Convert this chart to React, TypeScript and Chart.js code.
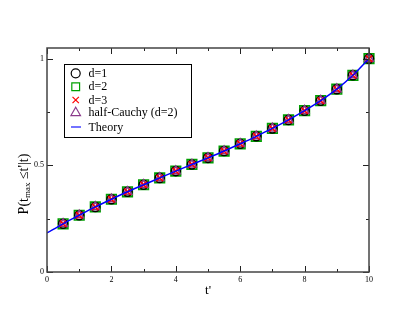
import React, { useEffect, useRef } from "react";
import { Chart, registerables } from "chart.js";
import { drawPoint } from "chart.js/helpers";
Chart.register(...registerables);

const tPrime = [0.5, 1, 1.5, 2, 2.5, 3, 3.5, 4, 4.5, 5, 5.5, 6, 6.5, 7, 7.5, 8, 8.5, 9, 9.5, 10];
const d1 = [0.226, 0.266, 0.305, 0.341, 0.376, 0.409, 0.441, 0.473, 0.504, 0.535, 0.567, 0.601, 0.636, 0.673, 0.713, 0.756, 0.803, 0.857, 0.922, 1.0];
const d2 = [0.226, 0.266, 0.305, 0.341, 0.376, 0.409, 0.441, 0.473, 0.504, 0.535, 0.567, 0.601, 0.636, 0.673, 0.713, 0.756, 0.803, 0.857, 0.922, 1.0];
const d3 = [0.226, 0.266, 0.305, 0.341, 0.376, 0.409, 0.441, 0.473, 0.504, 0.535, 0.567, 0.601, 0.636, 0.673, 0.713, 0.756, 0.803, 0.857, 0.922, 1.0];
const halfCauchy = [0.226, 0.266, 0.305, 0.341, 0.376, 0.409, 0.441, 0.473, 0.504, 0.535, 0.567, 0.601, 0.636, 0.673, 0.713, 0.756, 0.803, 0.857, 0.922, 1.0];
const theoryT = [0, 0.5, 1, 1.5, 2, 2.5, 3, 3.5, 4, 4.5, 5, 5.5, 6, 6.5, 7, 7.5, 8, 8.5, 9, 9.5, 10];
const theoryP = [0.183, 0.226, 0.266, 0.305, 0.341, 0.376, 0.409, 0.441, 0.473, 0.504, 0.535, 0.567, 0.601, 0.636, 0.673, 0.713, 0.756, 0.803, 0.857, 0.922, 1.0];
const xTickValues = [0, 2, 4, 6, 8, 10];
const yTickValues = [0, 0.5, 1];
const yTickLabels = ["0", "0.5", "1"];
const legendLabels = ["d=1", "d=2", "d=3", "half-Cauchy (d=2)", "Theory"];

const SERIF = "'Liberation Serif', 'Times New Roman', serif";

const toPts = (xs: number[], ys: number[]) => xs.map((x, i) => ({ x, y: ys[i] }));

const framePlugin = {
  id: "frame",
  afterDatasetsDraw(chart: any) {
    const { ctx, chartArea: a, scales } = chart;
    const x = scales.x;
    const y = scales.y;
    ctx.save();
    ctx.strokeStyle = "#222";
    ctx.lineWidth = 1;
    const line = (x1: number, y1: number, x2: number, y2: number) => {
      ctx.beginPath();
      ctx.moveTo(x1, y1);
      ctx.lineTo(x2, y2);
      ctx.stroke();
    };
    for (let v = 0; v <= 10; v++) {
      const px = Math.round(x.getPixelForValue(v)) + 0.5;
      const L = v % 2 === 0 ? 6 : 3;
      line(px, a.bottom, px, a.bottom - L);
      line(px, a.top, px, a.top + L);
    }
    [0, 0.25, 0.5, 0.75, 1].forEach((v) => {
      const py = Math.round(y.getPixelForValue(v)) + 0.5;
      const L = v === 0.25 || v === 0.75 ? 3 : 6;
      line(a.left, py, a.left + L, py);
      line(a.right, py, a.right - L, py);
    });
    ctx.strokeStyle = "#444";
    ctx.lineWidth = 1.5;
    ctx.strokeRect(a.left, a.top, a.right - a.left, a.bottom - a.top);
    ctx.restore();
  },
  afterDraw(chart: any) {
    const { ctx, chartArea: a } = chart;
    ctx.save();
    // legend box
    const bx = 64.5, by = 64.5, bw = 127, bh = 73;
    ctx.fillStyle = "#fff";
    ctx.fillRect(bx, by, bw, bh);
    ctx.strokeStyle = "#000";
    ctx.lineWidth = 1;
    ctx.strokeRect(bx, by, bw, bh);
    const rows = [73.3, 86.7, 100, 112.8, 127];
    const sx = 75.7;
    const styles = [
      { pointStyle: "circle", radius: 4.5, color: "#000" },
      { pointStyle: "rect", radius: 5.5, color: "#00a000" },
      { pointStyle: "crossRot", radius: 4.5, color: "#ff0000" },
      { pointStyle: "triangle", radius: 5.5, color: "#8b3a8b" },
    ];
    styles.forEach((s, i) => {
      ctx.strokeStyle = s.color;
      ctx.fillStyle = "rgba(0,0,0,0)";
      ctx.lineWidth = 1.2;
      drawPoint(ctx, { pointStyle: s.pointStyle, radius: s.radius, rotation: 0, borderWidth: 1.2 } as any, sx, rows[i]);
    });
    ctx.strokeStyle = "#4444ff";
    ctx.lineWidth = 1.5;
    ctx.beginPath();
    ctx.moveTo(71, rows[4]);
    ctx.lineTo(81, rows[4]);
    ctx.stroke();
    ctx.fillStyle = "#000";
    ctx.font = `12px ${SERIF}`;
    ctx.textBaseline = "middle";
    ctx.textAlign = "left";
    legendLabels.forEach((t, i) => ctx.fillText(t, 88.5, rows[i] + 0.5));

    // x title
    ctx.font = `13px ${SERIF}`;
    ctx.textAlign = "center";
    ctx.fillText("t'", (a.left + a.right) / 2, 291);

    // y title with subscript
    ctx.translate(24, 184);
    ctx.rotate(-Math.PI / 2);
    const big = `14px ${SERIF}`;
    const small = `9px ${SERIF}`;
    const parts: [string, string, number][] = [
      ["P(t", big, 0],
      ["max", small, 4],
      [" \u2264t'|t)", big, 0],
    ];
    let total = 0;
    parts.forEach(([t, f]) => {
      ctx.font = f;
      total += ctx.measureText(t).width;
    });
    let cx = -total / 2;
    ctx.textAlign = "left";
    parts.forEach(([t, f, dy]) => {
      ctx.font = f;
      ctx.fillText(t, cx, dy);
      cx += ctx.measureText(t).width;
    });
    ctx.restore();
  },
};

export default function App() {
  const ref = useRef<HTMLCanvasElement>(null);
  useEffect(() => {
    if (!ref.current) return;
    const ds = (label: string, data: number[], pointStyle: string, radius: number, color: string) => ({
      type: "scatter" as const,
      label,
      data: toPts(tPrime, data),
      pointStyle,
      pointRadius: radius,
      borderColor: color,
      backgroundColor: "rgba(0,0,0,0)",
      pointBorderWidth: 1.6,
      showLine: false,
      clip: false as any,
    });
    const chart = new Chart(ref.current, {
      type: "scatter",
      data: {
        datasets: [
          {
            type: "line",
            label: legendLabels[4],
            data: toPts(theoryT, theoryP),
            borderColor: "#0000ff",
            borderWidth: 1.5,
            pointRadius: 0,
            cubicInterpolationMode: "monotone",
            fill: false,
            order: 0,
          } as any,
          { ...ds(legendLabels[0], d1, "circle", 4.5, "#000"), order: 3 },
          { ...ds(legendLabels[1], d2, "rect", 6.8, "#00a000"), order: 4 },
          { ...ds(legendLabels[2], d3, "crossRot", 4.5, "#ff0000"), order: 1 },
          { ...ds(legendLabels[3], halfCauchy, "triangle", 5, "#8b3a8b"), order: 2 },
        ],
      },
      options: {
        responsive: false,
        animation: false,
        events: [],
        layout: { padding: { top: 48, right: 46, bottom: 0, left: 0 } },
        plugins: { legend: { display: false }, tooltip: { enabled: false } },
        scales: {
          x: {
            type: "linear",
            min: 0,
            max: 10,
            afterFit: (s: any) => {
              s.height = 49;
            },
            afterBuildTicks: (s: any) => {
              s.ticks = xTickValues.map((v) => ({ value: v }));
            },
            grid: { display: false, drawTicks: false },
            border: { display: false },
            ticks: {
              padding: 3,
              color: "#000",
              font: { family: SERIF, size: 8 },
              maxRotation: 0,
              callback: (v: any) => String(v),
            },
          },
          y: {
            type: "linear",
            min: 0,
            max: 1.05,
            afterFit: (s: any) => {
              s.width = 47;
            },
            afterBuildTicks: (s: any) => {
              s.ticks = yTickValues.map((v) => ({ value: v }));
            },
            grid: { display: false, drawTicks: false },
            border: { display: false },
            ticks: {
              padding: 3,
              color: "#000",
              font: { family: SERIF, size: 8 },
              callback: (v: any) => {
                const i = yTickValues.indexOf(Number(v));
                return i >= 0 ? yTickLabels[i] : "";
              },
            },
          },
        },
      },
      plugins: [framePlugin],
    } as any);
    return () => chart.destroy();
  }, []);
  return (
    <div style={{ position: "fixed", left: 0, top: 0, width: 415, height: 321, background: "#fff" }}>
      <canvas ref={ref} width={415} height={321} style={{ width: 415, height: 321 }} />
    </div>
  );
}
